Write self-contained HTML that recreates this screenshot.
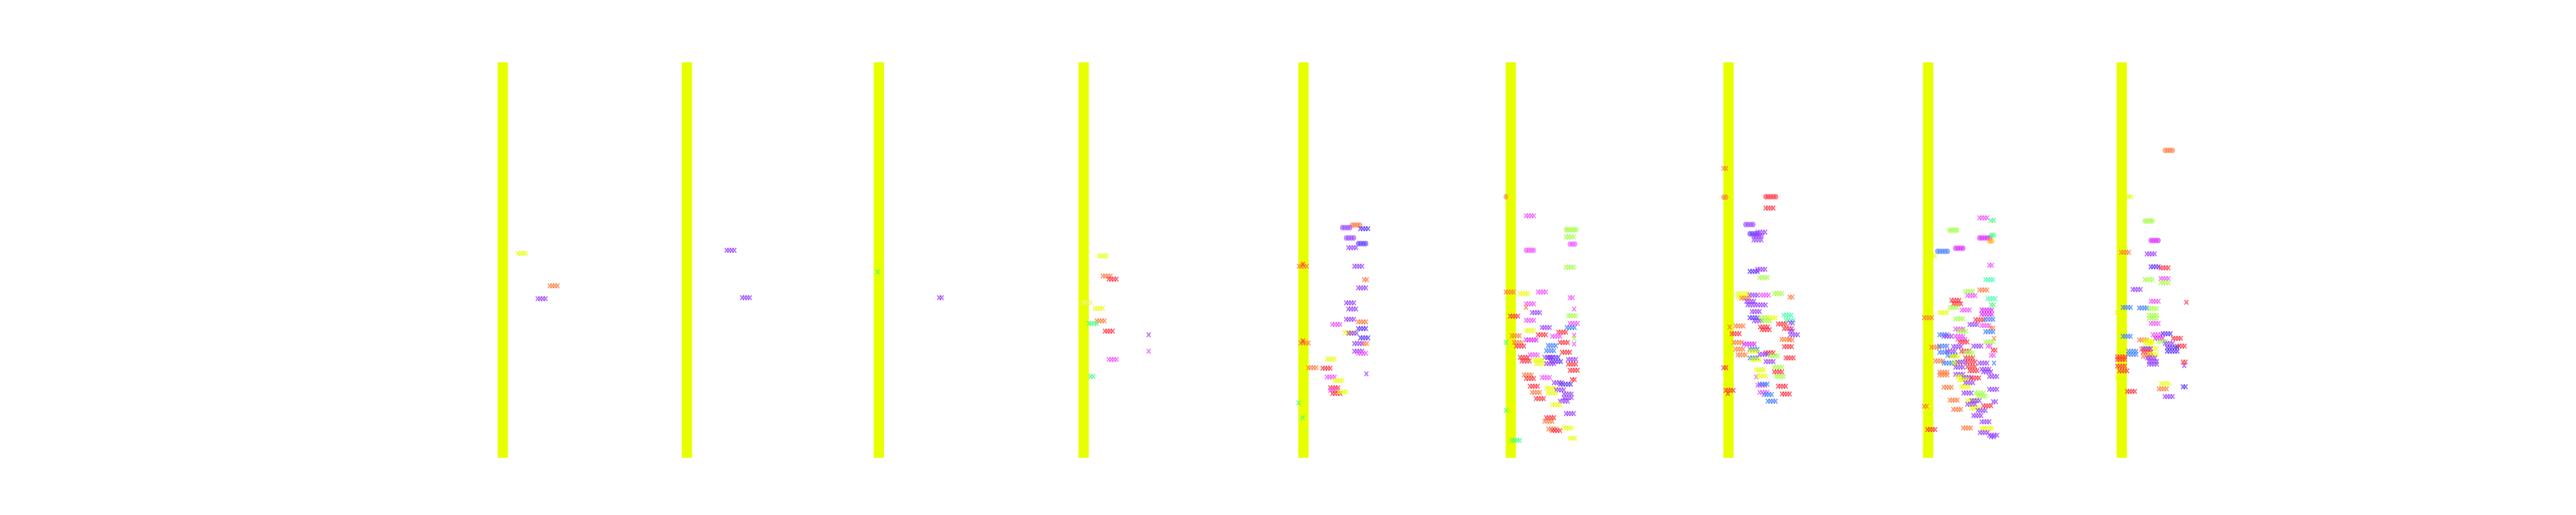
<!DOCTYPE html>
<html>
<head>
<meta charset="utf-8">
<style>
html,body{margin:0;padding:0;background:#fff;width:100%;height:100%;overflow:hidden;}
svg{display:block;position:absolute;left:0;top:0;width:100vw;height:100vh;}
</style>
</head>
<body>
<svg id="chart" viewBox="0 0 6000 1000" preserveAspectRatio="none" xmlns="http://www.w3.org/2000/svg">
<g id="bars"></g>
<g id="points"></g>
</svg>
<script>
// categories and their positions on the x axis
const categories = ["c1","c2","c3","c4","c5","c6","c7","c8","c9"];
const categoryX = [1171,1600,2047,2524,3036,3519,4026,4491,4942];
const bandLow = [0,0,0,0,0,0,0,0,0];
const bandHigh = [768,768,768,768,768,768,768,768,768];
// points per category: [offset, score, colour key, shape, count]
const p1 = [[31,397,'Y'],[105,334,'O'],[77,309,'P']];
const p2 = [[88,403,'P'],[124,311,'P']];
const p3 = [[136,311,'P','x',2],[-7,361,'G','x',1]];
const p4 = [[31,392,'Y'],[40,353,'O'],[54,347,'R'],[-6,301,'y'],[22,290,'Y'],[26,266,'O'],[8,261,'G'],[45,246,'R'],[147,239,'P','x',1],[147,207,'K','x',1],[54,191,'K'],[12,158,'G','x',2]];
const p5 = [[109,452,'O','o'],[86,447,'P','o'],[95,427,'P','o'],[123,416,'V','o'],[128,445,'V'],[100,408,'P'],[-15,372,'O'],[114,372,'P'],[137,346,'O','x',2],[123,330,'P'],[95,301,'P'],[100,289,'P'],[95,269,'P'],[123,264,'O'],[63,259,'K'],[123,251,'V'],[92,243,'Y'],[101,242,'P'],[128,233,'V'],[-11,223,'O'],[114,222,'P'],[137,222,'O','x',2],[114,207,'P'],[123,203,'K'],[50,192,'Y'],[7,175,'O'],[40,174,'R'],[50,157,'K'],[68,150,'Y'],[58,136,'R'],[58,131,'K'],[63,125,'R'],[77,128,'Y'],[142,163,'P','x',1],[-16,107,'G','x',1],[-6,376,'R','x',1],[-6,227,'R','x',1],[-6,78,'G','x',1]];
const p6 = [[-16,507,'O','o',1],[31,470,'K'],[124,443,'L','o',5],[124,429,'L'],[133,415,'K','o',3],[31,403,'K','o'],[124,370,'L'],[-16,322,'O'],[17,319,'Y'],[59,322,'K'],[133,311,'K','x',2],[31,299,'K'],[31,292,'O','x',1],[45,282,'P'],[143,289,'K','x',1],[129,276,'L'],[-6,275,'R'],[31,267,'K'],[133,261,'K'],[68,253,'P'],[126,253,'B'],[31,247,'Y'],[106,244,'R'],[59,239,'R'],[-2,237,'O'],[92,236,'K'],[143,238,'K','x',1],[31,229,'M','x',5],[143,232,'L','x',1],[3,224,'O'],[110,224,'R'],[143,221,'K','x',1],[82,218,'B'],[8,217,'R'],[78,208,'B'],[115,205,'R'],[40,200,'K'],[17,195,'R'],[82,195,'V','x',5],[88,187,'V','x',5],[74,195,'P'],[129,191,'P'],[21,188,'R'],[50,190,'Y'],[54,183,'Y'],[78,183,'P'],[129,182,'R'],[133,170,'R'],[26,161,'O'],[31,154,'R'],[68,156,'K'],[96,146,'P'],[111,143,'V','x',5],[138,152,'R','x',2],[40,139,'R'],[78,135,'Y'],[101,132,'P'],[45,127,'O'],[82,126,'Y'],[119,124,'P'],[119,117,'P'],[54,115,'R'],[110,110,'P'],[92,103,'Y'],[124,86,'P'],[-16,92,'G','x',1],[78,78,'R'],[74,71,'O'],[83,56,'O'],[92,53,'R'],[119,58,'Y'],[133,38,'Y','x',3],[-2,34,'G'],[-16,224,'G','x',1]];
const p7 = [[-16,562,'O','x',2],[-16,506,'O','o',2],[82,507,'R','o',5],[82,485,'R'],[35,453,'P','o'],[45,435,'V','o'],[54,431,'P','o'],[63,438,'P'],[54,423,'P'],[45,362,'V'],[63,366,'P'],[68,350,'L'],[17,319,'Y','x',5],[17,312,'Y'],[45,316,'P'],[71,316,'K'],[102,319,'L'],[138,312,'O','x',2],[26,310,'O'],[37,304,'P'],[40,297,'P'],[64,297,'P'],[50,284,'P'],[124,277,'T'],[45,272,'V'],[68,272,'L'],[87,272,'Y'],[129,267,'T'],[139,262,'P','x',2],[55,266,'P'],[74,266,'L'],[-2,254,'O','x',1],[12,256,'O'],[111,260,'R'],[69,254,'R'],[73,249,'R'],[125,251,'R'],[139,246,'P','x',2],[3,241,'R'],[139,239,'P'],[119,230,'O'],[138,229,'O','x',2],[8,224,'O'],[32,221,'M','x',5],[125,216,'R'],[12,211,'O'],[45,211,'B'],[45,207,'Y'],[82,204,'R'],[68,201,'P'],[92,198,'L'],[17,200,'O'],[129,194,'R'],[45,194,'B'],[50,191,'Y'],[82,187,'P'],[-16,175,'R','x',2],[102,176,'L'],[60,171,'Y'],[102,167,'R'],[60,157,'K','x',1],[64,159,'Y'],[106,158,'L'],[63,141,'K'],[68,143,'B'],[111,139,'R'],[-11,131,'R'],[-6,125,'R','x',1],[68,127,'K'],[78,123,'B'],[120,124,'R'],[87,110,'B']];
const p8 = [[115,466,'K'],[142,461,'G','x',2],[45,442,'L','o'],[115,427,'M','o',5],[142,432,'G','o',2],[138,421,'A','o',2],[17,401,'B','o',5],[59,407,'M','o'],[11,392,'Y','x',1],[138,374,'K','x',2],[129,346,'T'],[82,323,'L'],[115,326,'O'],[87,315,'K'],[134,309,'T'],[50,306,'R'],[54,299,'R'],[46,292,'L'],[142,297,'G','x',2],[74,287,'K'],[120,287,'M','x',5],[120,279,'M','x',5],[22,282,'Y'],[-14,272,'O'],[59,270,'L'],[106,268,'R'],[129,269,'B'],[92,259,'P'],[120,257,'K'],[59,250,'K'],[66,246,'L'],[141,252,'O','x',2],[129,245,'B'],[22,239,'B'],[32,236,'P'],[59,236,'K'],[64,230,'K'],[69,225,'R'],[149,232,'O','x',1],[129,225,'L'],[3,215,'O'],[22,217,'B'],[54,216,'P'],[101,217,'P'],[134,217,'K','x',2],[146,209,'R','x',2],[22,205,'B'],[40,207,'P'],[73,207,'R'],[82,204,'L'],[41,199,'B'],[49,197,'Y'],[142,199,'K','x',2],[82,194,'R'],[12,188,'O'],[32,184,'B','x',5],[54,184,'Y'],[64,186,'P'],[87,186,'R'],[115,184,'P'],[149,184,'B','x',1],[87,177,'R'],[59,176,'P'],[120,172,'P'],[22,166,'O'],[22,161,'O'],[92,169,'R'],[124,167,'P'],[59,162,'P'],[138,158,'P'],[64,157,'Y'],[78,156,'P'],[96,155,'R'],[69,151,'Y'],[82,146,'P'],[32,137,'O'],[73,138,'Y'],[138,133,'P'],[78,126,'P'],[106,126,'L'],[111,120,'L'],[46,112,'O'],[87,111,'Y'],[97,111,'P'],[147,109,'P','x',2],[-14,100,'O','x',2],[87,104,'P'],[124,101,'R'],[96,97,'Y'],[54,94,'O'],[111,92,'P'],[101,82,'P'],[120,70,'P'],[77,58,'O'],[-6,55,'R'],[120,57,'Y','x',5],[116,49,'P'],[138,44,'P'],[142,41,'P','x',2]];
const p9 = [[96,597,'O','o'],[11,507,'Y','x',2],[49,460,'L','o'],[63,422,'M','o'],[-6,399,'O'],[54,396,'P'],[63,371,'V'],[86,369,'R'],[49,346,'L'],[86,348,'K'],[86,340,'L'],[21,327,'P'],[63,304,'K'],[146,302,'R','x',1],[-2,292,'B'],[36,291,'B'],[59,290,'L'],[59,277,'L'],[59,271,'L'],[-16,282,'Y','x',1],[63,261,'K'],[-2,236,'B'],[68,239,'K'],[73,232,'M'],[91,241,'V'],[115,232,'R'],[36,229,'O'],[49,227,'Y'],[49,222,'Y'],[81,226,'L'],[96,222,'P'],[124,217,'R'],[101,214,'V','x',5],[101,207,'V','x',5],[11,207,'B'],[11,201,'B'],[58,212,'Y'],[41,211,'O'],[45,212,'P'],[45,205,'R'],[59,201,'Y'],[45,197,'O'],[-15,196,'R'],[-15,191,'R'],[55,194,'P'],[59,187,'P'],[59,182,'P'],[138,186,'R','x',2],[141,179,'P','x',1],[-15,178,'R'],[-10,169,'R'],[-16,156,'Y','x',1],[87,144,'Y'],[138,138,'V','x',2],[82,134,'O'],[8,129,'R'],[96,119,'P']];
const pointSets = [p1,p2,p3,p4,p5,p6,p7,p8,p9];

const palette = {Y:'#e8ff00',y:'#f3f07a',O:'#ff7a3a',R:'#ff3040',K:'#f050ff',M:'#e020ff',P:'#9a40ff',V:'#5a30ff',B:'#3f7fff',L:'#a0ff40',G:'#40ff80',T:'#40ffb0',A:'#ffaa00'};
const NS = 'http://www.w3.org/2000/svg';
const yTop = 121, yBottom = 889, scoreMax = 768;
function yScale(v){ return yBottom - (v/scoreMax)*(yBottom-yTop); }
function xScale(cat, off){ return categoryX[cat] + (off||0); }

const barsG = document.getElementById('bars');
categories.forEach((c,i)=>{
  const r = document.createElementNS(NS,'rect');
  const yh = yScale(bandHigh[i]), yl = yScale(bandLow[i]);
  r.setAttribute('x', xScale(i,-12));
  r.setAttribute('y', yh);
  r.setAttribute('width', 24);
  r.setAttribute('height', yl-yh);
  r.setAttribute('fill', '#e8ff00');
  
  
  barsG.appendChild(r);
});

const ptsG = document.getElementById('points');
pointSets.forEach((set,ci)=>{
  set.forEach((p,pi)=>{
    const off=p[0], score=p[1], col=palette[p[2]]||'#999', shape=p[3]||'x', n=p[4]||4;
    const g = document.createElementNS(NS,'g');
    
    
    const x0 = xScale(ci, off), yc = yScale(score);
    for(let k=0;k<n;k++){
      const cx = x0 + 4.5 + k*6;
      if(shape==='o'){
        const c = document.createElementNS(NS,'circle');
        c.setAttribute('cx',cx); c.setAttribute('cy',yc); c.setAttribute('r',5.5);
        c.setAttribute('fill',col); c.setAttribute('fill-opacity','0.6');
        g.appendChild(c);
      } else {
        const path = document.createElementNS(NS,'path');
        path.setAttribute('d',`M${cx-4.5} ${yc-4.5}L${cx+4.5} ${yc+4.5}M${cx-4.5} ${yc+4.5}L${cx+4.5} ${yc-4.5}`);
        path.setAttribute('stroke',col); path.setAttribute('stroke-width','2.5');
        path.setAttribute('stroke-opacity','0.75'); path.setAttribute('fill','none');
        g.appendChild(path);
      }
    }
    ptsG.appendChild(g);
  });
});
</script>
</body>
</html>
